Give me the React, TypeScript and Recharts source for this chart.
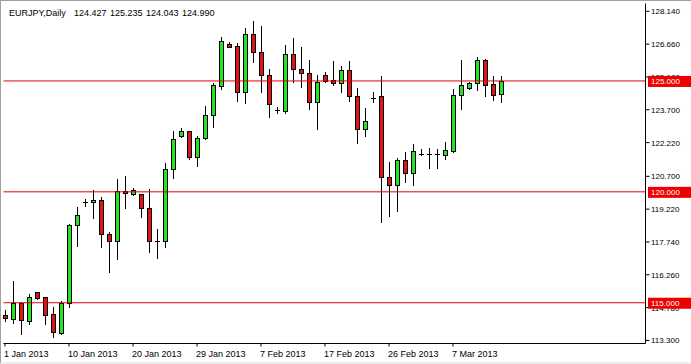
import React from 'react';
import { ComposedChart, Bar, XAxis, YAxis, ReferenceLine } from 'recharts';

const dates = [
  '1 Jan 2013', '2 Jan 2013', '3 Jan 2013', '4 Jan 2013', '6 Jan 2013', '7 Jan 2013', '8 Jan 2013', '9 Jan 2013',
  '10 Jan 2013', '11 Jan 2013', '13 Jan 2013', '14 Jan 2013', '15 Jan 2013', '16 Jan 2013', '17 Jan 2013', '18 Jan 2013',
  '20 Jan 2013', '21 Jan 2013', '22 Jan 2013', '23 Jan 2013', '24 Jan 2013', '25 Jan 2013', '27 Jan 2013', '28 Jan 2013',
  '29 Jan 2013', '30 Jan 2013', '31 Jan 2013', '1 Feb 2013', '3 Feb 2013', '4 Feb 2013', '5 Feb 2013', '6 Feb 2013',
  '7 Feb 2013', '8 Feb 2013', '10 Feb 2013', '11 Feb 2013', '12 Feb 2013', '13 Feb 2013', '14 Feb 2013', '15 Feb 2013',
  '17 Feb 2013', '18 Feb 2013', '19 Feb 2013', '20 Feb 2013', '21 Feb 2013', '22 Feb 2013', '24 Feb 2013', '25 Feb 2013',
  '26 Feb 2013', '27 Feb 2013', '28 Feb 2013', '1 Mar 2013', '3 Mar 2013', '4 Mar 2013', '5 Mar 2013', '6 Mar 2013',
  '7 Mar 2013', '8 Mar 2013', '10 Mar 2013', '11 Mar 2013', '12 Mar 2013', '13 Mar 2013', '14 Mar 2013',
];

const opens = [
  114.43, 114.25, 115.01, 114.16, 115.47, 115.24, 114.47, 113.62,
  114.97, 118.49, 119.53, 119.53, 119.62, 118.09, 117.77, 120.02,
  119.89, 119.89, 119.25, 117.77, 117.77, 121.01, 122.5, 122.73,
  121.55, 122.41, 123.45, 124.76, 126.67, 126.56, 124.49, 127.1,
  126.29, 125.25, 123.67, 123.63, 126.2, 125.52, 125.34, 124.04,
  125.25, 125.03, 124.89, 125.48, 124.31, 122.82, 124.22, 124.31,
  120.65, 120.29, 121.42, 120.83, 121.69, 121.69, 121.69, 121.64,
  121.83, 124.35, 124.67, 124.89, 125.93, 124.85, 124.427,
];
const highs = [
  114.65, 115.96, 115.03, 115.39, 115.49, 115.26, 114.79, 115.06,
  118.53, 119.3, 119.66, 120.07, 119.75, 118.17, 120.56, 120.7,
  120.16, 119.9, 120.11, 118.31, 121.28, 122.73, 122.86, 122.75,
  122.5, 123.86, 124.89, 126.97, 126.74, 126.7, 127.37, 127.69,
  127.46, 125.52, 123.81, 126.61, 126.92, 126.52, 125.93, 125.25,
  125.39, 125.88, 125.66, 125.88, 124.67, 123.77, 124.49, 125.21,
  121.33, 121.51, 121.78, 122.14, 121.92, 121.96, 121.92, 122.23,
  124.62, 125.93, 124.94, 126.07, 125.97, 125.21, 125.235,
];
const lows = [
  114.16, 114.08, 113.57, 114.02, 115.15, 114.02, 113.44, 113.6,
  114.79, 117.55, 119.34, 118.8, 117.5, 116.37, 116.96, 119.25,
  119.84, 118.85, 117.27, 117.0, 117.5, 120.61, 122.46, 121.46,
  121.15, 122.37, 122.91, 124.62, 126.52, 124.08, 123.99, 125.84,
  124.49, 123.36, 123.54, 123.54, 124.94, 124.71, 123.72, 122.82,
  124.94, 124.8, 124.49, 124.08, 122.19, 122.5, 124.04, 118.62,
  118.89, 119.12, 120.43, 120.29, 121.64, 121.06, 121.06, 121.46,
  121.78, 123.72, 124.62, 124.58, 124.31, 124.13, 124.043,
];
const closes = [
  114.3, 115.01, 114.2, 115.24, 115.2, 114.43, 113.66, 114.97,
  118.49, 118.94, 119.53, 119.62, 118.09, 117.77, 120.02, 119.93,
  120.07, 119.25, 117.77, 117.77, 121.01, 122.37, 122.73, 121.55,
  122.41, 123.45, 124.8, 126.79, 126.53, 124.49, 127.1, 126.29,
  125.25, 123.95, 123.67, 126.2, 125.52, 125.34, 124.04, 124.94,
  124.98, 124.89, 125.48, 124.31, 122.82, 123.18, 124.22, 120.65,
  120.29, 121.42, 120.83, 121.83, 121.69, 121.69, 121.69, 121.87,
  124.35, 124.8, 124.89, 125.93, 124.8, 124.35, 124.99,
];

const dateTicks = ['1 Jan 2013', '10 Jan 2013', '20 Jan 2013', '29 Jan 2013', '7 Feb 2013', '17 Feb 2013', '26 Feb 2013', '7 Mar 2013'];
const priceTicks = [113.3, 114.78, 116.26, 117.74, 119.22, 120.7, 122.22, 123.7, 125.18, 126.66, 128.14];
const levels = [125, 120, 115];
const emptySlots = 17;

const title = ['EURJPY,Daily', '124.427', '125.235', '124.043', '124.990'];

const data = [
  ...dates.map((d, i) => ({
    d,
    open: opens[i],
    high: highs[i],
    low: lows[i],
    close: closes[i],
    range: [lows[i], highs[i]],
  })),
  ...Array.from({ length: emptySlots }, (_, k) => ({ d: `slot${k}` })),
];

const Y_DOMAIN: [number, number] = [113.162, 128.492];
const GREEN = '#22e622';
const RED = '#e01414';
const LINE_RED = '#e00000';
const FONT = '"Liberation Sans", Arial, sans-serif';

const Candle = (props: any) => {
  const { x, y, width, height, payload } = props;
  if (!payload || payload.high == null) return null;
  const top = Math.min(y, y + height);
  const bot = Math.max(y, y + height);
  const { open, close, high, low } = payload;
  const span = high - low;
  const py = (v: number) => (span > 0 ? top + ((high - v) / span) * (bot - top) : top);
  const cx = Math.round(x + width / 2);
  const yh = Math.round(top);
  const yl = Math.round(bot);
  const yo = Math.round(py(open));
  const yc = Math.round(py(close));
  const bt = Math.min(yo, yc);
  const bb = Math.max(yo, yc);
  const color = close > open ? GREEN : RED;
  return (
    <g>
      <rect x={cx} y={yh} width={1} height={yl - yh + 1} fill="#000" />
      {bb === bt ? (
        <rect x={cx - 2} y={bt} width={5} height={1} fill="#000" />
      ) : (
        <rect x={cx - 1.5} y={bt + 0.5} width={4} height={bb - bt} fill={color} stroke="#000" strokeWidth={1} />
      )}
    </g>
  );
};

const XTick = (props: any) => {
  const { x, payload } = props;
  return (
    <text x={x - 1} y={356.5} fontSize={9} fontFamily={FONT} fill="#000" textAnchor="start">
      {payload.value}
    </text>
  );
};

const YTick = (props: any) => {
  const { y, payload } = props;
  return (
    <text x={651} y={y + 3} fontSize={8} fontFamily={FONT} fill="#000" textAnchor="start">
      {Number(payload.value).toFixed(3)}
    </text>
  );
};

const LevelLabel = (value: number) => (props: any) => {
  const vb = props.viewBox || {};
  const ly = vb.y;
  return (
    <g>
      <rect x={648} y={ly - 5} width={43} height={11} fill="#ee0000" />
      <text x={651} y={ly + 3} fontSize={8} fontFamily={FONT} fill="#fff" textAnchor="start">
        {value.toFixed(3)}
      </text>
    </g>
  );
};

export default function App() {
  return (
    <div
      style={{
        position: 'absolute',
        left: 0,
        top: 0,
        width: 691,
        height: 364,
        background: '#fff',
        overflow: 'hidden',
      }}
    >
      <ComposedChart
        width={691}
        height={364}
        data={data}
        margin={{ top: 3.5, right: 0.5, bottom: 0.5, left: 3.5 }}
        barCategoryGap={0}
        barGap={0}
      >
        <XAxis
          dataKey="d"
          type="category"
          ticks={dateTicks}
          interval={0}
          padding={{ left: -2.5, right: 4.5 }}
          height={20}
          axisLine={{ stroke: '#000', strokeWidth: 1 }}
          tickLine={{ stroke: '#000' }}
          tickSize={3}
          tick={<XTick />}
        />
        <XAxis
          xAxisId="top"
          dataKey="d"
          orientation="top"
          height={0}
          tick={false}
          tickLine={false}
          axisLine={{ stroke: '#000', strokeWidth: 1 }}
        />
        <YAxis
          orientation="right"
          type="number"
          domain={Y_DOMAIN}
          allowDataOverflow
          ticks={priceTicks}
          interval={0}
          width={45}
          axisLine={{ stroke: '#000', strokeWidth: 1 }}
          tickLine={{ stroke: '#000' }}
          tickSize={4}
          tick={<YTick />}
        />
        <YAxis
          yAxisId="left"
          orientation="left"
          type="number"
          domain={[0, 1]}
          width={0}
          tick={false}
          tickLine={false}
          axisLine={{ stroke: '#000', strokeWidth: 1 }}
        />
        <Bar dataKey="range" barSize={8} shape={<Candle />} isAnimationActive={false} />
        {levels.map((lv) => (
          <ReferenceLine
            key={lv}
            y={lv}
            stroke={LINE_RED}
            strokeWidth={1}
            label={LevelLabel(lv)}
            {...({ zIndex: 2500 } as any)}
          />
        ))}
      </ComposedChart>
      <div
        style={{
          position: 'absolute',
          left: 0,
          top: 0,
          width: 691,
          height: 364,
          pointerEvents: 'none',
          fontFamily: FONT,
          fontSize: 9,
          color: '#000',
          boxSizing: 'border-box',
          borderTop: '1px solid #a0a0a0',
          borderLeft: '1px solid #a0a0a0',
          borderBottom: '2px solid #ececec',
        }}
      >
        {title.map((t, i) => (
          <span
            key={t}
            style={{ position: 'absolute', left: (i === 0 ? 9 : 74 + (i - 1) * 36) - 1, top: 7, lineHeight: '10px', whiteSpace: 'nowrap' }}
          >
            {t}
          </span>
        ))}
      </div>
    </div>
  );
}
